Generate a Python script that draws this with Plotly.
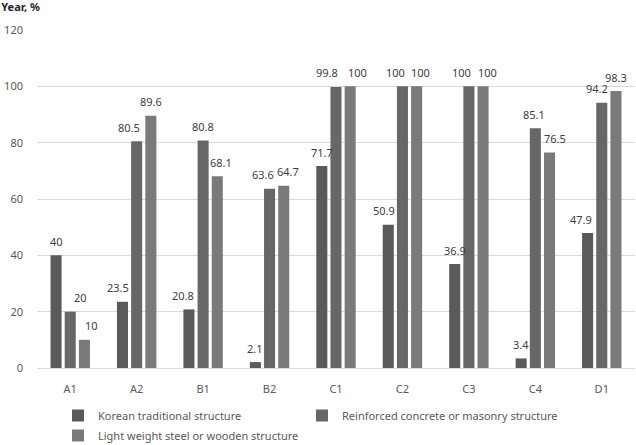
import plotly.graph_objects as go

categories = ["A1", "A2", "B1", "B2", "C1", "C2", "C3", "C4", "D1"]
series_names = [
    "Korean traditional structure",
    "Reinforced concrete or masonry structure",
    "Light weight steel or wooden structure",
]
korean = [40, 23.5, 20.8, 2.1, 71.7, 50.9, 36.9, 3.4, 47.9]
reinforced = [20, 80.5, 80.8, 63.6, 99.8, 100, 100, 85.1, 94.2]
light = [10, 89.6, 68.1, 64.7, 100, 100, 100, 76.5, 98.3]
y_ticks = [0, 20, 40, 60, 80, 100, 120]

# label nudges (px) to avoid overlapping labels, as in the reference
label_nudge = [
    [0, -4, -6, 0, 0, -4, 0, 0, -7],
    [10, -8, 0, -7, -9, -7, -7, -1, -5],
    [7, 0, 4, 4, 7, 4, 4, 5, 0],
]

colors = ["#5a5a5a", "#676767", "#7a7a7a"]
font_family = "Noto Sans, Open Sans, sans-serif"

W, H = 636, 445
ml, mr, mt, mb = 37, 1, 30, 77
pw = W - ml - mr
ph = H - mt - mb
bargap = 0.36
bargroupgap = 0.22
cat_w = pw / len(categories)
slot = (1 - bargap) * cat_w / 3

fig = go.Figure()
all_vals = [korean, reinforced, light]
annotations = []
for i, (name, vals, col) in enumerate(zip(series_names, all_vals, colors)):
    fig.add_trace(go.Bar(
        x=categories, y=vals, name=name,
        marker=dict(color=col, line=dict(width=0)),
        legend=["legend", "legend2", "legend3"][i],
        showlegend=True,
        cliponaxis=False,
    ))
    for j, (c, v) in enumerate(zip(categories, vals)):
        annotations.append(dict(
            x=c, y=v, xref="x", yref="y",
            text=f"{v:g}", showarrow=False,
            xanchor="center", yanchor="middle",
            xshift=(i - 1) * slot + label_nudge[i][j], yshift=14,
            font=dict(size=11, color="#404040", family=font_family),
        ))

def leg(x_px, y_px):
    return dict(
        visible=True,
        orientation="h",
        xref="container", yref="container",
        x=x_px / W, xanchor="left",
        y=1 - y_px / H, yanchor="top",
        font=dict(size=11, color="#595959", family=font_family),
        itemwidth=30,
        bgcolor="rgba(0,0,0,0)",
    )

fig.update_layout(
    width=W, height=H,
    margin=dict(l=ml, r=mr, t=mt, b=mb, pad=0, autoexpand=False),
    showlegend=True,
    barmode="group",
    bargap=bargap,
    bargroupgap=bargroupgap,
    plot_bgcolor="white",
    paper_bgcolor="white",
    font=dict(family=font_family, size=11, color="#595959"),
    title=dict(
        text="<b>Year, %</b>",
        x=0.002, xref="container", xanchor="left",
        y=1, yref="container", yanchor="top",
        pad=dict(t=3, l=0),
        font=dict(size=11, color="#262626", family=font_family),
    ),
    xaxis=dict(
        range=[-0.5, len(categories) - 0.5],
        showgrid=False, showline=False, zeroline=False,
        tickfont=dict(size=11, color="#595959"),
        ticklabelstandoff=13,
    ),
    yaxis=dict(
        range=[0, 120],
        tickvals=y_ticks,
        showgrid=True, gridcolor="#d9d9d9", gridwidth=1,
        zeroline=True, zerolinecolor="#d9d9d9", zerolinewidth=1,
        showline=False,
        tickfont=dict(size=11, color="#595959"),
        ticklabelstandoff=13,
    ),
    legend=leg(58, 401),
    legend2=leg(302, 401),
    legend3=leg(58, 421),
    annotations=annotations,
)

fig.write_html("out.html")
